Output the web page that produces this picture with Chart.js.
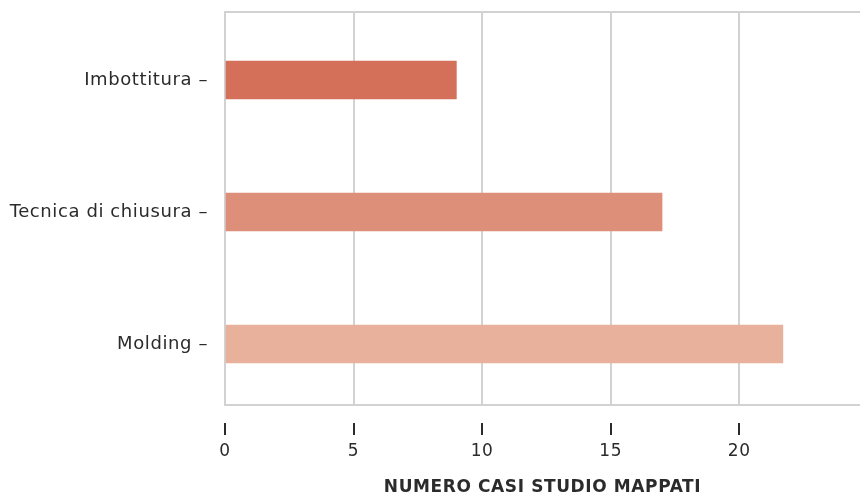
<!DOCTYPE html>
<html>
<head>
<meta charset="utf-8">
<script src="https://cdn.jsdelivr.net/npm/chart.js@4/dist/chart.umd.min.js"></script>
<style>
  html, body { margin: 0; padding: 0; background: #ffffff; }
  #wrap { width: 860px; height: 498px; position: relative; }
</style>
</head>
<body>
<div id="wrap"><canvas id="chart"></canvas></div>
<script>
// Tecniche di lavorazione e numero di casi studio mappati
const categories = ['Imbottitura', 'Tecnica di chiusura', 'Molding'];
const casiStudio = [9, 17, 21.7];
const barColors = ['#d4705a', '#dd8f79', '#e7b19c'];
const xTicks = [0, 5, 10, 15, 20];
const xTitle = 'NUMERO CASI STUDIO MAPPATI';

const FONT = "'DejaVu Sans', sans-serif";
const TEXT = '#2b2b2b';
const GRID = '#d2d2d2';

// Slightly wider lettering for all chart text
const spacingPlugin = {
  id: 'spacing',
  beforeDraw(chart) { chart.ctx.letterSpacing = '0.6px'; }
};

// Frame line at the top of the plot and detached tick marks under the x axis
const framePlugin = {
  id: 'frame',
  afterDraw(chart) {
    const { ctx, chartArea, scales } = chart;
    ctx.save();
    ctx.strokeStyle = GRID;
    ctx.lineWidth = 2;
    ctx.beginPath();
    ctx.moveTo(chartArea.left, chartArea.top);
    ctx.lineTo(chartArea.right, chartArea.top);
    ctx.stroke();

    ctx.strokeStyle = TEXT;
    ctx.lineWidth = 2;
    const y0 = chartArea.bottom + 18;
    xTicks.forEach(v => {
      const x = Math.round(scales.x.getPixelForValue(v));
      ctx.beginPath();
      ctx.moveTo(x, y0);
      ctx.lineTo(x, y0 + 12);
      ctx.stroke();
    });
    ctx.restore();
  }
};

// one row per category: value on x, row position on y
const rows = categories.map((c, i) => ({ x: casiStudio[i], y: i }));

new Chart(document.getElementById('chart'), {
  type: 'bar',
  data: {
    datasets: [{
      data: rows,
      backgroundColor: barColors,
      borderWidth: 0,
      barThickness: 38
    }]
  },
  plugins: [spacingPlugin, framePlugin],
  options: {
    indexAxis: 'y',
    responsive: true,
    maintainAspectRatio: false,
    animation: false,
    layout: { padding: { top: 12, right: 0, bottom: 0, left: 0 } },
    plugins: {
      legend: { display: false },
      tooltip: { enabled: false }
    },
    scales: {
      x: {
        type: 'linear',
        min: 0,
        max: 24.7,
        afterBuildTicks(scale) {
          scale.ticks = xTicks.map(v => ({ value: v }));
        },
        afterFit(scale) { scale.height = 93; },
        grid: {
          color: GRID,
          lineWidth: 2,
          drawTicks: false
        },
        border: { display: true, color: GRID, width: 2 },
        ticks: {
          padding: 36,
          color: TEXT,
          font: { family: FONT, size: 17 }
        },
        title: {
          display: true,
          text: xTitle,
          color: TEXT,
          padding: { top: 17, bottom: 0 },
          font: { family: FONT, size: 17, weight: 'bold' }
        }
      },
      y: {
        type: 'linear',
        reverse: true,
        offset: false,
        min: -0.515,
        max: 2.462,
        afterBuildTicks(scale) {
          scale.ticks = categories.map((c, i) => ({ value: i }));
        },
        grid: { display: false, drawTicks: false, offset: false },
        border: { display: true, color: GRID, width: 2 },
        afterFit(scale) {
          scale.width = 225;
          scale.paddingTop = 0;
          scale.paddingBottom = 0;
        },
        ticks: {
          padding: 17,
          color: TEXT,
          font: { family: FONT, size: 18 },
          callback(value) { return categories[value] + ' –'; }
        }
      }
    }
  }
});
</script>
</body>
</html>
